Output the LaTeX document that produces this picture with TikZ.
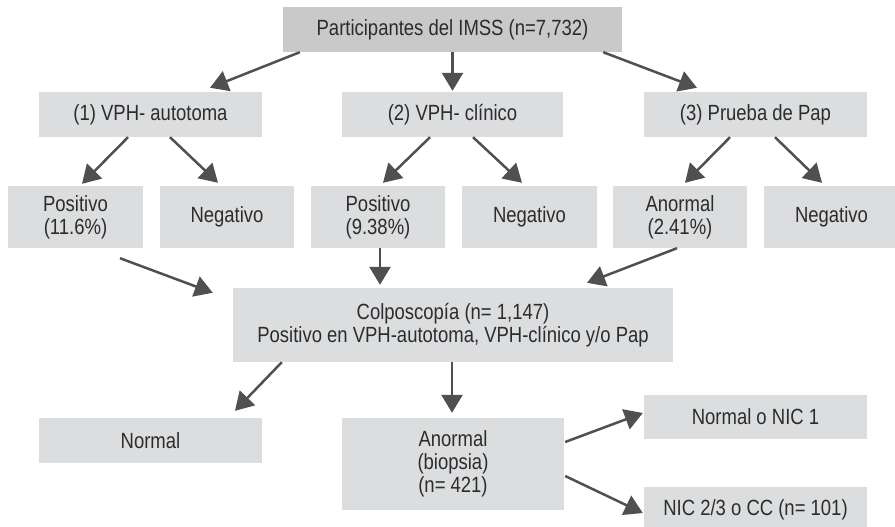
\documentclass[tikz,border=0pt]{standalone}
\usepackage{fontspec}
\setmainfont{Liberation Sans}[FakeStretch=0.84]
\usetikzlibrary{arrows.meta,calc}

\definecolor{boxfill}{HTML}{DCDDDF}
\definecolor{topfill}{HTML}{C9C9CA}
\definecolor{arrowgray}{HTML}{505050}
\definecolor{textgray}{HTML}{2C2C2C}

\tikzset{
  box/.style={fill=boxfill, draw=none, inner sep=0pt, align=center,
    text=textgray, font=\fontsize{22}{23}\selectfont},
  topbox/.style={box, fill=topfill},
  flow/.style={draw=arrowgray, line width=2.5pt,
    -{Triangle[length=18pt,width=21pt]}},
}

\begin{document}
\begin{tikzpicture}[x=1pt,y=-1pt]
\useasboundingbox (0,0) rectangle (895,527);

% root
\node[topbox, minimum width=339, minimum height=45] (top) at (452.5,29.5)
  {Participantes del IMSS (n=7,732)};

% the three screening tests
\node[box, minimum width=223, minimum height=45] (b1) at (150.5,114.5) {(1) VPH- autotoma};
\node[box, minimum width=221, minimum height=45] (b2) at (452.5,114.5) {(2) VPH- clínico};
\node[box, minimum width=223, minimum height=45] (b3) at (755.5,114.5) {(3) Prueba de Pap};

% results of each test
\node[box, minimum width=135, minimum height=62] (p1) at (75.5,217)  {Positivo\\(11.6\%)};
\node[box, minimum width=134, minimum height=62] (n1) at (227,217)   {Negativo};
\node[box, minimum width=134, minimum height=62] (p2) at (378,217)   {Positivo\\(9.38\%)};
\node[box, minimum width=135, minimum height=62] (n2) at (529.5,217) {Negativo};
\node[box, minimum width=134, minimum height=62] (a3) at (680,217)   {Anormal\\(2.41\%)};
\node[box, minimum width=135, minimum height=62] (n3) at (831.5,217) {Negativo};

% colposcopy
\node[box, minimum width=440, minimum height=74] (col) at (453,325)
  {Colposcopía (n= 1,147)\\Positivo en VPH-autotoma, VPH-clínico y/o Pap};

% colposcopy outcomes
\node[box, minimum width=223, minimum height=45] (normal) at (150.5,440.5) {Normal};
\node[box, minimum width=222, minimum height=92] (anormal) at (453,464)
  {Anormal\\(biopsia)\\(n= 421)};
\node[box, minimum width=223, minimum height=44] (nic1) at (755.5,417) {Normal o NIC 1};
\node[box, minimum width=223, minimum height=45] (nic23) at (755.5,509.5) {NIC 2/3 o CC (n= 101)};

% connectors
\draw[flow] ($(top.south west)+(17,0)$)   -- ($(b1.north)+(59.5,-4)$);
\draw[flow] (top.south)                   -- ($(b2.north)+(0,-1)$);
\draw[flow] ($(top.south east)+(-19,0)$)  -- ($(b3.north)+(-58.5,-4)$);

\draw[flow] ($(b1.south)+(-22.5,0)$) -- ($(p1.north)+(6.5,-2)$);
\draw[flow] ($(b1.south)+(19.5,0)$)  -- ($(n1.north)+(-9,-3)$);
\draw[flow] ($(b2.south)+(-22.5,0)$) -- ($(p2.north)+(5,-3)$);
\draw[flow] ($(b2.south)+(20.5,0)$)  -- ($(n2.north)+(-7.5,-3)$);
\draw[flow] ($(b3.south)+(-25.5,0)$) -- ($(a3.north)+(5,-3)$);
\draw[flow] ($(b3.south)+(19.5,0)$)  -- ($(n3.north)+(-9.5,-3)$);

\draw[flow] ($(p1.south)+(44.5,10)$) -- ($(col.north west)+(-20,5)$);
\draw[flow] ($(p2.south)+(2,0)$)     -- ($(col.north)+(-73,-3)$);
\draw[flow] ($(a3.south)+(-3,0)$)    -- ($(col.north)+(134,-5)$);

\draw[flow] ($(col.south west)+(49,0)$) -- ($(normal.north)+(84.5,-7)$);
\draw[flow] ($(col.south)+(-1,0)$)      -- ($(anormal.north)+(-1,-5)$);

\draw[flow] ($(anormal.east)+(1,-22)$) -- ($(nic1.west)+(-1,-4)$);
\draw[flow] ($(anormal.east)+(1,12)$)  -- ($(nic23.west)+(-1,3.5)$);
\end{tikzpicture}
\end{document}
